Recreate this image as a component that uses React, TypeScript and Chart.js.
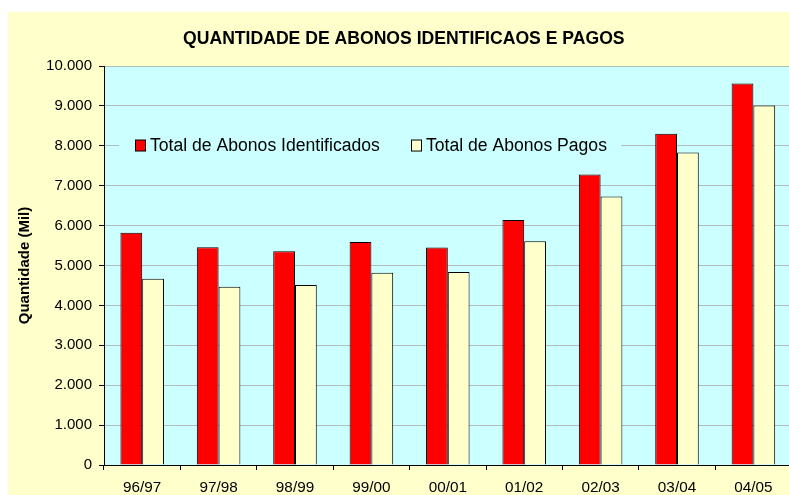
import React, { useEffect, useRef } from "react";
import { Chart, registerables } from "chart.js";

Chart.register(...registerables);

const categories = ["96/97", "97/98", "98/99", "99/00", "00/01", "01/02", "02/03", "03/04", "04/05"];
const identificados = [5820, 5460, 5360, 5590, 5450, 6140, 7280, 8300, 9560];
const pagos = [4670, 4470, 4510, 4820, 4840, 5610, 6730, 7830, 9010];
const seriesNames = ["Total de Abonos Identificados", "Total de Abonos Pagos"];
const titleText = "QUANTIDADE DE ABONOS IDENTIFICAOS E PAGOS";
const yTitle = "Quantidade (Mil)";

const FONT = "'Liberation Sans', Arial, Helvetica, sans-serif";
const PLOT_BG = "#CCFFFF";
const PAGE_BG = "#FFFFCC";

const fmt = (v: number) => String(v).replace(/\B(?=(\d{3})+(?!\d))/g, ".");

const plotBgPlugin = {
  id: "plotBg",
  beforeDraw(chart: any) {
    const { ctx, chartArea } = chart;
    ctx.save();
    ctx.fillStyle = PLOT_BG;
    ctx.fillRect(chartArea.left, chartArea.top, chartArea.right - chartArea.left, chartArea.bottom - chartArea.top);
    ctx.restore();
  },
};

const innerLegendPlugin = {
  id: "innerLegend",
  afterDatasetsDraw(chart: any) {
    const { ctx, chartArea } = chart;
    const left = chartArea.left;
    const top = chartArea.top;
    ctx.save();
    ctx.fillStyle = PLOT_BG;
    ctx.fillRect(left + 15, top + 66, 502, 26);
    ctx.font = `17.6px ${FONT}`;
    ctx.textBaseline = "middle";
    const items = [
      { x: left + 31, color: chart.data.datasets[0].backgroundColor, label: chart.data.datasets[0].label },
      { x: left + 307, color: chart.data.datasets[1].backgroundColor, label: chart.data.datasets[1].label },
    ];
    const cy = top + 79.5;
    items.forEach((it) => {
      ctx.fillStyle = it.color;
      ctx.fillRect(it.x + 0.5, cy - 5.5, 10, 11);
      ctx.strokeStyle = "#000";
      ctx.lineWidth = 1;
      ctx.strokeRect(it.x + 0.5, cy - 5.5, 10, 11);
      ctx.fillStyle = "#000";
      ctx.fillText(it.label, it.x + 15, cy + 0.5);
    });
    ctx.restore();
  },
};

export default function App() {
  const ref = useRef<HTMLCanvasElement | null>(null);

  useEffect(() => {
    if (!ref.current) return;
    const chart = new Chart(ref.current, {
      type: "bar",
      data: {
        labels: categories,
        datasets: [
          {
            label: seriesNames[0],
            data: identificados,
            backgroundColor: "#FF0000",
            borderColor: "#000000",
            borderWidth: 1,
            categoryPercentage: 0.57,
            barPercentage: 1.0,
          },
          {
            label: seriesNames[1],
            data: pagos,
            backgroundColor: "#FFFFCC",
            borderColor: "#000000",
            borderWidth: 1,
            categoryPercentage: 0.57,
            barPercentage: 1.0,
          },
        ],
      },
      options: {
        responsive: false,
        animation: false,
        devicePixelRatio: 1,
        layout: { padding: { left: 8, top: 0, right: 6.4, bottom: 0 } },
        plugins: {
          legend: { display: false },
          tooltip: { enabled: false },
          title: {
            display: true,
            text: titleText,
            color: "#000",
            font: { family: FONT, size: 17.6, weight: "bold", lineHeight: 1.2 },
            padding: { top: 16.2, bottom: 16.7 },
          },
        },
        scales: {
          x: {
            grid: { display: true, drawOnChartArea: false, drawTicks: true, tickLength: 5, tickColor: "#000", offset: true },
            border: { display: true, color: "#000", width: 1 },
            ticks: { color: "#000", font: { family: FONT, size: 15.3 }, padding: 9, maxRotation: 0, autoSkip: false },
            afterFit: (s: any) => {
              s.height = 30;
            },
          },
          y: {
            min: 0,
            max: 10000,
            grid: { color: "#b2bcbc", tickColor: "#000", tickLength: 5, drawTicks: true },
            border: { display: true, color: "#000", width: 1 },
            ticks: {
              stepSize: 1000,
              color: "#000",
              padding: 7,
              font: { family: FONT, size: 15 },
              callback: (v: any) => fmt(Number(v)),
            },
            title: {
              display: true,
              text: yTitle,
              color: "#000",
              font: { family: FONT, size: 15, weight: "bold" },
              padding: { top: 0, bottom: 0 },
            },
            afterFit: (s: any) => {
              s.width = 88;
            },
          },
        },
      },
      plugins: [plotBgPlugin, innerLegendPlugin],
    });
    return () => chart.destroy();
  }, []);

  return (
    <div
      style={{
        position: "fixed",
        left: 8,
        top: 12,
        width: 781,
        height: 483,
        overflow: "hidden",
        background: PAGE_BG,
      }}
    >
      <canvas ref={ref} width={790} height={483} style={{ display: "block" }} />
    </div>
  );
}
